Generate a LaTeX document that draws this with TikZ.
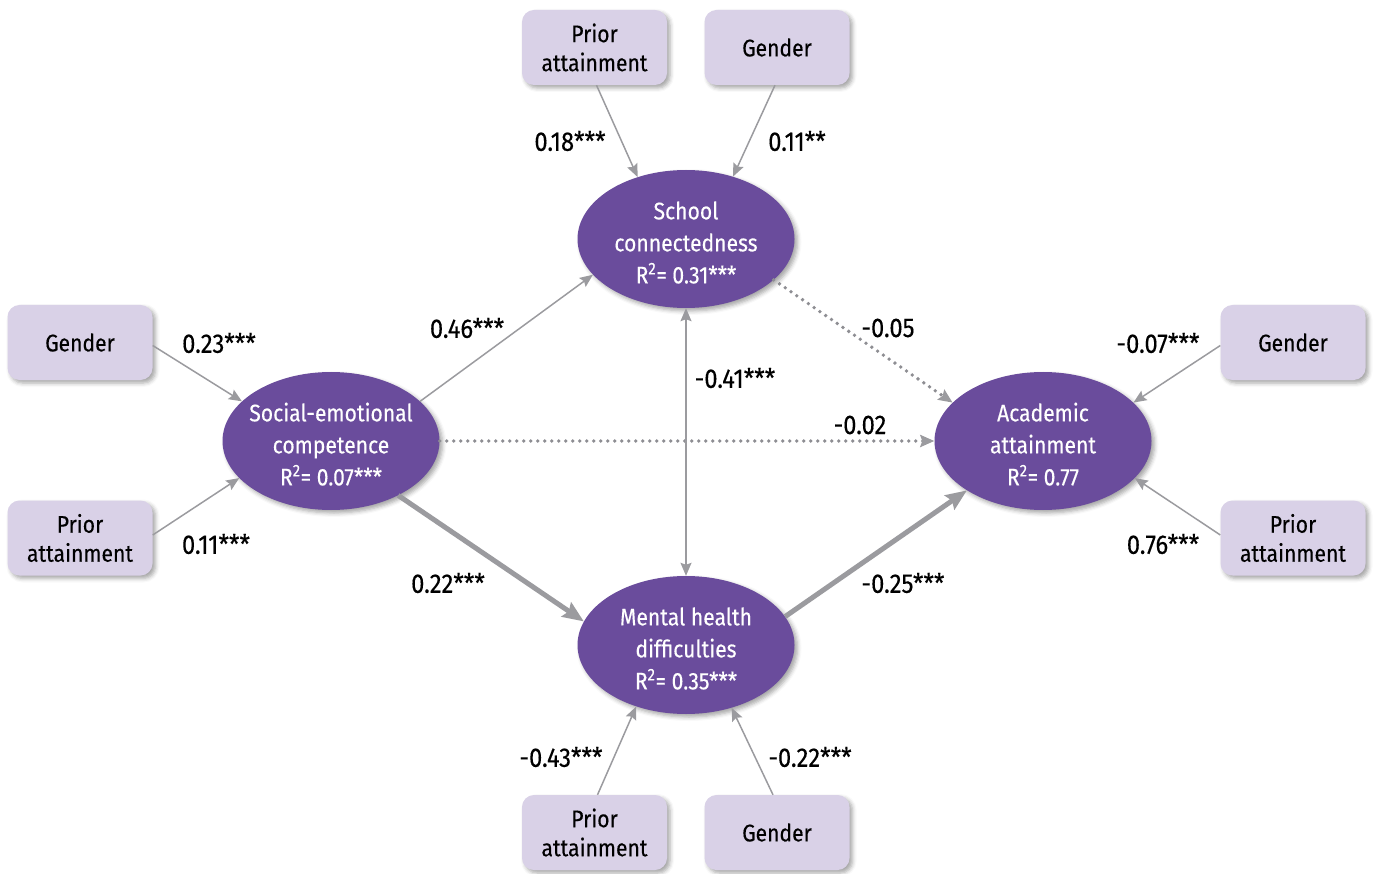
\documentclass[tikz,border=0pt]{standalone}
\usepackage{fontspec}
\setmainfont[FakeStretch=0.88,FakeBold=0.3]{Fira Sans}
\usetikzlibrary{shapes.geometric,arrows.meta,shadows.blur}
\definecolor{latent}{HTML}{6A4C9C}
\definecolor{observed}{HTML}{D9D1E7}
\definecolor{pathgray}{HTML}{9B9B9F}
\definecolor{dotgray}{HTML}{8E8E93}
% invisible strut that lowers the text block inside the ellipses a little
\newcommand{\lowerstrut}{\rule{0pt}{25pt}}
\begin{document}
\begin{tikzpicture}[x=1pt,y=-1pt,
  covbox/.style={fill=observed, rounded corners=12pt, minimum width=145pt,
    minimum height=75pt, align=center, inner sep=0pt,
    font=\fontsize{24}{29}\selectfont,
    blur shadow={shadow xshift=3pt, shadow yshift=-3pt, shadow blur radius=4pt, shadow opacity=35}},
  construct/.style={ellipse, fill=latent, text=white, minimum width=217pt,
    minimum height=138pt, inner xsep=-8pt, inner ysep=-6pt, align=center,
    font=\fontsize{24}{32}\selectfont,
    blur shadow={shadow xshift=3pt, shadow yshift=-3pt, shadow blur radius=4pt, shadow opacity=35}},
  coef/.style={font=\fontsize{27}{30}\selectfont, text=black, inner sep=0pt},
  effect/.style={draw=pathgray, line width=1.5pt, -{Stealth[length=13pt,width=11pt,inset=2pt]}},
  strongeffect/.style={draw=pathgray, line width=5pt, -{Stealth[length=21pt,width=17pt,inset=3pt]}},
  nseffect/.style={draw=dotgray, line width=3.8pt, line cap=round, dash pattern=on 0pt off 7pt,
    -{Stealth[length=14pt,width=12pt,inset=2pt,color=pathgray]}},
  covar/.style={draw=pathgray, line width=1.5pt, {Stealth[length=13pt,width=11pt,inset=2pt]}-{Stealth[length=13pt,width=11pt,inset=2pt]}}
]
\useasboundingbox (0,0) rectangle (1381,874);

% latent constructs
\node[construct] (sch) at (686,239) {\lowerstrut School\\connectedness\\R\textsuperscript{2}= 0.31***};
\node[construct] (soc) at (331,441) {\lowerstrut Social-emotional\\competence\\R\textsuperscript{2}= 0.07***};
\node[construct] (aca) at (1043,441) {\lowerstrut Academic\\attainment\\R\textsuperscript{2}= 0.77};
\node[construct] (men) at (686,645) {\lowerstrut Mental health\\difficulties\\R\textsuperscript{2}= 0.35***};

% observed covariates
\node[covbox] (tprior) at (594.5,47.5) {Prior\\attainment};
\node[covbox] (tgender) at (777,47.5) {Gender};
\node[covbox] (lgender) at (80,342.5) {Gender};
\node[covbox] (lprior) at (80,538) {Prior\\attainment};
\node[covbox] (rgender) at (1293,342.5) {Gender};
\node[covbox] (rprior) at (1293,538) {Prior\\attainment};
\node[covbox] (bprior) at (594.5,832.5) {Prior\\attainment};
\node[covbox] (bgender) at (777,832.5) {Gender};

% covariate paths
\draw[effect] ([xshift=2pt]tprior.south) -- (sch.128.4);
\draw[effect] ([xshift=-2pt]tgender.south) -- (sch.53.7);
\draw[effect] ([yshift=-3pt]lgender.east) -- (soc.156.6);
\draw[effect] ([yshift=3pt]lprior.east) -- (soc.202.3);
\draw[effect] ([yshift=-3pt]rgender.west) -- (aca.23.7);
\draw[effect] ([yshift=3pt]rprior.west) -- (aca.-22);
\draw[effect] ([xshift=3pt]bprior.north) -- (men.231.6);
\draw[effect] ([xshift=-4pt]bgender.north) -- (men.306.7);

% structural paths
\draw[effect] (soc.24.5) -- (sch.201.7);
\draw[strongeffect] (soc.-39) -- (men.167.8);
\draw[strongeffect] (men.16.4) -- (aca.213.2);
\draw[nseffect] (soc.east) -- (aca.west);
\draw[nseffect] (sch.-25) -- (aca.157.6);
\draw[covar] (sch.south) -- (men.north);

% coefficients
\node[coef] (c1) at (570,141) {0.18***};
\node[coef] (c2) at (797,141) {0.11**};
\node[coef] (c3) at (219,343) {0.23***};
\node[coef] (c4) at (216,544) {0.11***};
\node[coef] (c5) at (467,328) {0.46***};
\node[coef] (c6) at (860,425) {-0.02};
\node[coef] (c7) at (888,328) {-0.05};
\node[coef] (c8) at (735,378) {-0.41***};
\node[coef] (c9) at (448,583) {0.22***};
\node[coef] (c10) at (903,583) {-0.25***};
\node[coef] (c11) at (1158,343) {-0.07***};
\node[coef] (c12) at (1163,544) {0.76***};
\node[coef] (c13) at (561,757) {-0.43***};
\node[coef] (c14) at (810,757) {-0.22***};
\end{tikzpicture}
\end{document}
